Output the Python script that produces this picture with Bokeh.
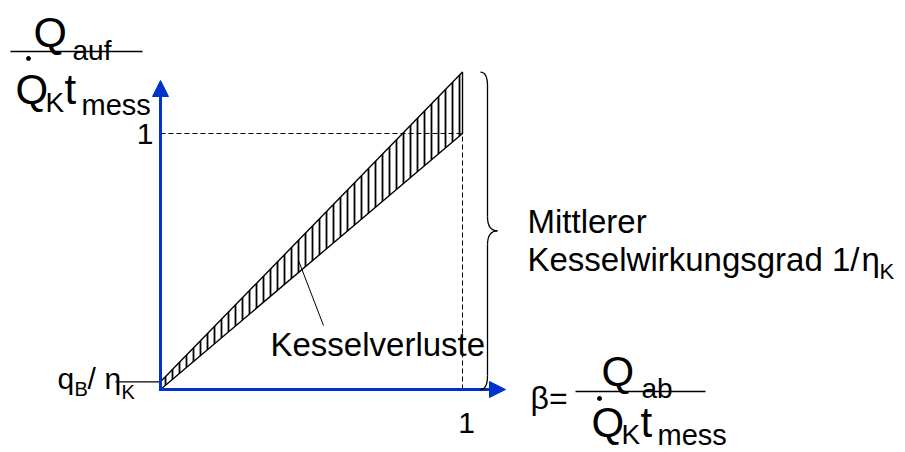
from bokeh.plotting import figure
from bokeh.models import Range1d, Arrow, NormalHead
from bokeh.core.properties import value
from bokeh.embed import file_html
from bokeh.resources import INLINE

# ---------------- data ----------------
beta = [0.0, 1.0]            # beta = Q_ab / (Q_K t_mess)
useful = [0.0, 1.0]          # useful heat ratio (= beta)
supplied = [0.03, 1.24]      # Q_auf / (Q_K t_mess) = q_B/eta_K + beta/eta_K
x_tick_labels = ["1"]
y_tick_labels = ["1"]

# ---------------- layout helpers ----------------
# reference pixel positions of beta = 0 / 1 and value = 0 / 1
PX0, PX1 = 160, 462
PY0, PY1 = 389, 133
W, H, MARGIN = 905, 452, 0
BASE_SHIFT = 0.34   # fraction of font size the renderer puts text below its baseline


def dx(px):
    return (px - PX0) / (PX1 - PX0)


def dy(py):
    return (PY0 - py) / (PY0 - PY1)


BLUE = "#0033cc"
FONT = value("Liberation Sans")

p = figure(width=W, height=H, output_backend="svg", toolbar_location=None,
           x_range=Range1d(dx(MARGIN), dx(MARGIN + W)),
           y_range=Range1d(dy(MARGIN + H), dy(MARGIN)),
           x_axis_type=None, y_axis_type=None, min_border=0,
           outline_line_color=None, background_fill_color="white",
           border_fill_color="white")

# dashed guides at beta = 1 and value = 1
p.line([beta[0], beta[1]], [useful[1], useful[1]], line_color="black",
       line_width=1, line_dash="5 3")
p.line([beta[1], beta[1]], [useful[0], useful[1]], line_color="black",
       line_width=1, line_dash="5 3")

# hatched band (boiler losses)
band_x = beta + beta[::-1]
band_y = useful + supplied[::-1]
p.patch(band_x, band_y, fill_color=None, hatch_pattern="vertical_line",
        hatch_color="black", hatch_weight=1.8, hatch_scale=7,
        line_color="black", line_width=1.4)

# q_B / eta_K marker line
p.line([dx(115), beta[0]], [supplied[0], supplied[0]], line_color="black",
       line_width=1.3)

# blue axes with arrow heads
x_tip, y_tip = dx(505), dy(80)
p.line([0, 0, dx(489)], [dy(96), 0, 0], line_color=BLUE, line_width=3,
       line_join="miter")
p.add_layout(Arrow(x_start=0, y_start=dy(100), x_end=0, y_end=y_tip,
                   line_color=BLUE, line_width=3,
                   end=NormalHead(size=16, fill_color=BLUE, line_color=BLUE,
                                  line_width=1)))
p.add_layout(Arrow(x_start=dx(485), y_start=0, x_end=x_tip, y_end=0,
                   line_color=BLUE, line_width=3,
                   end=NormalHead(size=16, fill_color=BLUE, line_color=BLUE,
                                  line_width=1)))

# curly brace spanning 0 .. 1/eta_K at beta = 1
bx_end, bx_spine, bx_tip = dx(480), dx(487), dx(497)
b_top, b_bot = supplied[1], useful[0]
b_mid = (b_top + b_bot) / 2
r = 14 / (PY0 - PY1)
p.quadratic(x0=[bx_end, bx_spine, bx_tip, bx_spine],
            y0=[b_top, b_mid + r, b_mid, b_bot + r],
            x1=[bx_spine, bx_tip, bx_spine, bx_end],
            y1=[b_top - r, b_mid, b_mid - r, b_bot],
            cx=[bx_spine] * 4, cy=[b_top, b_mid, b_mid, b_bot],
            line_color="black", line_width=1.3)
p.segment(x0=[bx_spine] * 2, y0=[b_top - r, b_mid - r],
          x1=[bx_spine] * 2, y1=[b_mid + r, b_bot + r],
          line_color="black", line_width=1.3)

# leader line to "Kesselverluste"
p.line([dx(298), dx(323)], [dy(260), dy(325)], line_color="black", line_width=1)

# fraction bars and the "dot" of Q-dot
p.segment(x0=[dx(10), dx(575)], y0=[dy(51), dy(391)],
          x1=[dx(142), dx(705)], y1=[dy(51), dy(391)],
          line_color="black", line_width=1.3)
p.scatter([dx(28), dx(599)], [dy(58), dy(398)], size=4, color="black")


def txt(px, py, s, size, align="left"):
    p.text(x=[dx(px)], y=[dy(py)], text=[s], text_font=FONT,
           y_offset=-BASE_SHIFT * size,
           text_font_size=f"{size}px", text_align=align,
           text_baseline="alphabetic", text_color="black")


# y-axis label (top-left fraction)
txt(33, 46, "Q", 43)
txt(72, 60, "auf", 28)
txt(15, 103, "Q", 42)
txt(45, 112, "K", 28)
txt(64, 103, "t", 42)
txt(81, 114, "mess", 29)

# tick labels
p.text(x=[beta[0]], y=[useful[1]], text=y_tick_labels,
       x_offset=-7, y_offset=11 - BASE_SHIFT * 30,
       text_font=FONT, text_font_size="30px", text_align="right",
       text_baseline="alphabetic")
p.text(x=[beta[1]], y=[useful[0]], text=x_tick_labels,
       x_offset=4, y_offset=44 - BASE_SHIFT * 30,
       text_font=FONT, text_font_size="30px", text_align="center",
       text_baseline="alphabetic")

# q_B / eta_K
txt(57, 388, "q", 30)
txt(74, 395, "B", 20)
txt(87, 388, "/", 30)
txt(104, 388, "η", 30)
txt(121, 398, "K", 20)

# annotations
txt(270, 355, "Kesselverluste", 33)
txt(527, 232, "Mittlerer", 33)
txt(527, 270, "Kesselwirkungsgrad 1/", 33)
txt(861, 270, "η", 33)
txt(879, 278, "K", 22)

# x-axis label (bottom-right fraction)
txt(530, 408, "β=", 32)
txt(601, 385, "Q", 42)
txt(641, 398, "ab", 28)
txt(591, 436, "Q", 42)
txt(621, 444, "K", 28)
txt(640, 436, "t", 42)
txt(657, 444, "mess", 29)

open("out.html", "w").write(file_html(p, INLINE))
